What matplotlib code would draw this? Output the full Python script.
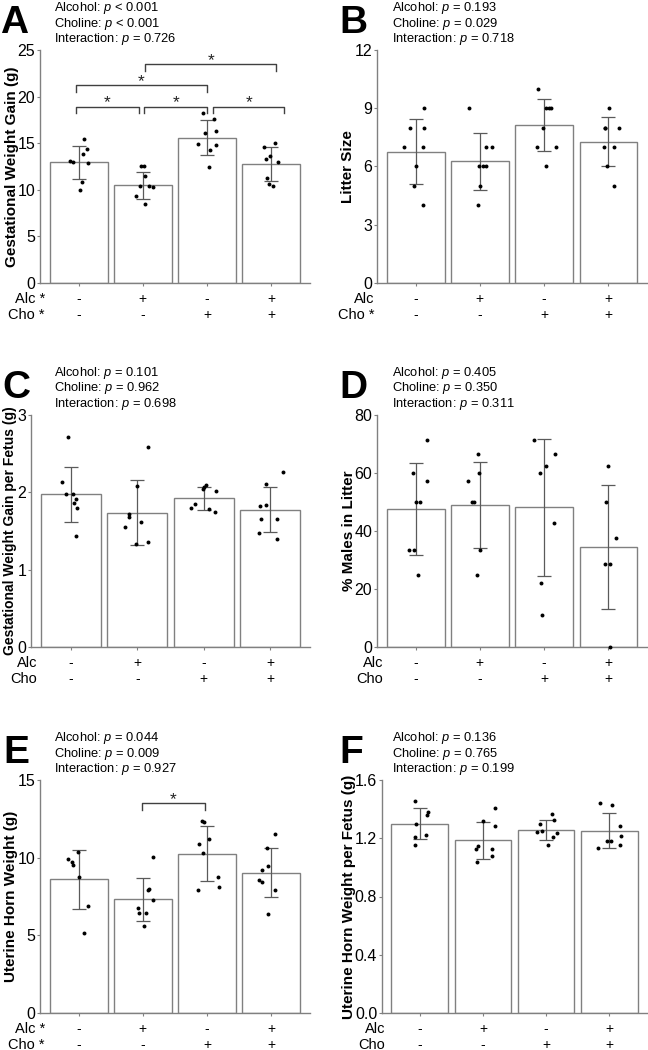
import matplotlib
matplotlib.use("Agg")
import matplotlib.pyplot as plt
import numpy as np
from matplotlib.ticker import FormatStrFormatter

plt.rcParams['font.family'] = ['Liberation Sans', 'DejaVu Sans']
plt.rcParams['mathtext.fontset'] = 'custom'
plt.rcParams['mathtext.rm'] = 'Liberation Sans'
plt.rcParams['mathtext.it'] = 'Liberation Sans:italic'

# ---------------- data ----------------
alc_row = ['-', '+', '-', '+']
cho_row = ['-', '-', '+', '+']

A_mean = [12.93, 10.5, 15.6, 12.75]
A_sd = [1.8, 1.46, 1.86, 1.8]
A_pts = [[15.43, 14.36, 13.86, 13.07, 13.0, 12.86, 10.86, 9.93],
         [12.57, 12.5, 11.43, 10.46, 10.36, 10.32, 9.36, 8.43],
         [18.21, 17.64, 16.07, 16.29, 14.93, 14.32, 14.79, 12.43],
         [14.61, 15.04, 13.68, 13.29, 12.93, 11.25, 10.61, 10.36]]
A_jit = [[0.08, 0.13, 0.07, -0.13, -0.08, 0.14, 0.05, 0.02],
         [0.01, -0.03, 0.03, -0.04, 0.09, 0.15, -0.11, 0.04],
         [-0.07, 0.10, -0.04, 0.13, -0.14, 0.05, 0.14, 0.03],
         [-0.12, 0.05, -0.02, -0.08, 0.10, -0.07, -0.04, 0.02]]
A_p = ["Alcohol: $\\it{p}$ < 0.001", "Choline: $\\it{p}$ < 0.001", "Interaction: $\\it{p}$ = 0.726"]

B_mean = [6.77, 6.26, 8.14, 7.27]
B_sd = [1.66, 1.48, 1.35, 1.27]
B_pts = [[9, 8, 8, 7, 7, 6, 5, 4],
         [9, 7, 7, 6, 6, 6, 5, 4],
         [10, 9, 9, 9, 8, 7, 7, 6],
         [9, 8, 8, 8, 7, 7, 6, 5]]
B_jit = [[0.13, -0.09, 0.13, -0.18, 0.11, 0.0, -0.03, 0.11],
         [-0.17, 0.10, 0.19, -0.02, 0.05, 0.10, 0.0, -0.03],
         [-0.09, 0.03, 0.07, 0.11, -0.02, -0.11, 0.18, 0.03],
         [0.01, -0.05, -0.05, 0.17, -0.07, 0.08, -0.03, 0.09]]
B_p = ["Alcohol: $\\it{p}$ = 0.193", "Choline: $\\it{p}$ = 0.029", "Interaction: $\\it{p}$ = 0.718"]

C_mean = [1.976, 1.739, 1.924, 1.778]
C_sd = [0.357, 0.415, 0.146, 0.297]
C_pts = [[2.71, 2.14, 1.98, 1.98, 1.92, 1.86, 1.80, 1.43],
         [2.59, 2.08, 1.72, 1.68, 1.62, 1.55, 1.36, 1.33],
         [2.10, 2.075, 2.045, 2.02, 1.855, 1.80, 1.78, 1.75],
         [2.26, 2.11, 1.84, 1.82, 1.66, 1.65, 1.47, 1.40]]
C_jit = [[-0.04, -0.14, -0.075, 0.025, 0.07, 0.045, 0.085, 0.075],
         [0.16, 0.0, -0.12, -0.12, 0.05, -0.18, 0.16, -0.02],
         [0.04, 0.01, -0.005, 0.185, -0.125, -0.185, 0.075, 0.175],
         [0.19, -0.055, -0.065, -0.15, -0.14, 0.10, -0.17, 0.11]]
C_p = ["Alcohol: $\\it{p}$ = 0.101", "Choline: $\\it{p}$ = 0.962", "Interaction: $\\it{p}$ = 0.698"]

D_mean = [47.5, 48.9, 48.2, 34.4]
D_sd = [15.8, 14.9, 23.6, 21.4]
D_pts = [[71.4, 60, 57.1, 50, 50, 33.3, 33.3, 25],
         [66.7, 60, 57.1, 50, 50, 33.3, 25],
         [71.4, 66.7, 62.5, 60, 42.9, 22.2, 11.1],
         [62.5, 50, 37.5, 28.6, 28.6, 0]]
D_jit = [[0.18, -0.04, 0.18, 0.0, 0.07, -0.11, -0.02, 0.04],
         [-0.03, -0.02, -0.19, -0.13, -0.09, 0.0, -0.05],
         [-0.16, 0.17, 0.03, -0.06, 0.15, -0.05, -0.03],
         [0.0, -0.04, 0.12, -0.05, 0.03, 0.02]]
D_p = ["Alcohol: $\\it{p}$ = 0.405", "Choline: $\\it{p}$ = 0.350", "Interaction: $\\it{p}$ = 0.311"]

E_mean = [8.62, 7.31, 10.25, 9.03]
E_sd = [1.9, 1.37, 1.78, 1.59]
E_pts = [[10.36, 9.91, 9.74, 9.50, 8.73, 6.88, 5.18],
         [10.04, 7.97, 7.89, 7.26, 6.73, 6.43, 6.43, 5.61],
         [12.36, 12.27, 11.20, 10.87, 10.32, 8.77, 8.08, 7.95],
         [11.54, 10.64, 9.46, 9.22, 8.58, 8.45, 7.91, 6.40]]
E_jit = [[-0.01, -0.17, -0.10, -0.08, 0.01, 0.14, 0.08],
         [0.16, 0.09, 0.08, 0.15, -0.07, -0.06, 0.05, 0.02],
         [-0.08, -0.05, 0.03, -0.12, -0.07, 0.17, 0.18, -0.14],
         [0.05, -0.07, -0.05, -0.15, -0.20, -0.14, 0.06, -0.06]]
E_p = ["Alcohol: $\\it{p}$ = 0.044", "Choline: $\\it{p}$ = 0.009", "Interaction: $\\it{p}$ = 0.927"]

F_mean = [1.30, 1.185, 1.258, 1.252]
F_sd = [0.105, 0.13, 0.067, 0.12]
F_pts = [[1.458, 1.38, 1.36, 1.30, 1.222, 1.21, 1.153],
         [1.41, 1.318, 1.284, 1.148, 1.125, 1.123, 1.077, 1.036],
         [1.364, 1.327, 1.295, 1.247, 1.245, 1.238, 1.21, 1.155],
         [1.444, 1.43, 1.284, 1.215, 1.183, 1.183, 1.153, 1.130]]
F_jit = [[-0.08, 0.13, 0.12, -0.06, 0.10, -0.08, -0.08],
         [0.19, 0.0, 0.19, -0.08, -0.11, 0.15, 0.14, -0.10],
         [0.09, 0.13, -0.10, -0.06, -0.14, 0.18, 0.11, 0.03],
         [-0.14, 0.05, 0.17, 0.19, 0.03, -0.04, 0.18, -0.18]]
F_p = ["Alcohol: $\\it{p}$ = 0.136", "Choline: $\\it{p}$ = 0.765", "Interaction: $\\it{p}$ = 0.199"]

# significance brackets: (left x, right x, y)
A_sig = [(-0.04, 0.94, 18.93), (1.02, 2.005, 18.93), (2.09, 3.2, 18.93),
         (-0.04, 1.99, 21.2), (1.04, 3.07, 23.5)]
E_sig = [(0.985, 1.97, 13.5)]

# ---------------- layout ----------------
W, H = 648, 1050
fig = plt.figure(figsize=(W / 100, H / 100), dpi=100)

GRAY = '#808080'
EGRAY = '#5a5a5a'

panels = [
    dict(letter='A', box=(40, 50, 310, 283), mean=A_mean, sd=A_sd, pts=A_pts, jit=A_jit, p=A_p,
         ylabel='Gestational Weight Gain (g)', ylsize=11, ylx=12, ymax=25, ystep=5, fmt='%d',
         rows=('Alc *', 'Cho *'), rowx=45, ptx=54, letx=0, sig=A_sig),
    dict(letter='B', box=(377, 50, 647, 283), mean=B_mean, sd=B_sd, pts=B_pts, jit=B_jit, p=B_p,
         ylabel='Litter Size', ylsize=11, ylx=348, ymax=12, ystep=3, fmt='%d',
         rows=('Alc', 'Cho *'), rowx=374, ptx=392, letx=339, sig=[]),
    dict(letter='C', box=(31, 415, 310, 647), mean=C_mean, sd=C_sd, pts=C_pts, jit=C_jit, p=C_p,
         ylabel='Gestational Weight Gain per Fetus (g)', ylsize=10, ylx=10, ymax=3, ystep=1, fmt='%d',
         rows=('Alc', 'Cho'), rowx=37, ptx=54, letx=2, sig=[]),
    dict(letter='D', box=(377, 415, 647, 647), mean=D_mean, sd=D_sd, pts=D_pts, jit=D_jit, p=D_p,
         ylabel='% Males in Litter', ylsize=11, ylx=349, ymax=80, ystep=20, fmt='%d',
         rows=('Alc', 'Cho'), rowx=383, ptx=392, letx=339, sig=[]),
    dict(letter='E', box=(40, 780, 310, 1013), mean=E_mean, sd=E_sd, pts=E_pts, jit=E_jit, p=E_p,
         ylabel='Uterine Horn Weight (g)', ylsize=11, ylx=11, ymax=15, ystep=5, fmt='%d',
         rows=('Alc *', 'Cho *'), rowx=45, ptx=54, letx=3, sig=E_sig),
    dict(letter='F', box=(382, 780, 647, 1013), mean=F_mean, sd=F_sd, pts=F_pts, jit=F_jit, p=F_p,
         ylabel='Uterine Horn Weight per Fetus (g)', ylsize=11, ylx=348.5, ymax=1.6, ystep=0.4, fmt='%.1f',
         rows=('Alc', 'Cho'), rowx=385, ptx=392, letx=339, sig=[]),
]


def fx(px):
    return px / W


def fy(py):
    return 1 - py / H


for P in panels:
    l, t, r, b = P['box']
    ax = fig.add_axes([fx(l), fy(b), (r - l) / W, (b - t) / H])
    x = np.arange(4)
    ax.bar(x, P['mean'], width=0.9, color='white', edgecolor=GRAY, linewidth=1.0, zorder=1)
    ax.errorbar(x, P['mean'], yerr=P['sd'], fmt='none', ecolor=EGRAY, elinewidth=0.9,
                capsize=4.7, capthick=0.9, zorder=2)
    for i in range(4):
        xs = i + np.array(P['jit'][i])
        ax.scatter(xs, P['pts'][i], s=8, color='black', linewidths=0, zorder=3, clip_on=False)
    ymax = P['ymax']
    ax.set_xlim(-0.6, 3.6)
    ax.set_ylim(0, ymax)
    ax.set_yticks(np.arange(0, ymax + ymax * 0.01, P['ystep']))
    ax.yaxis.set_major_formatter(FormatStrFormatter(P['fmt']))
    ax.set_xticks(x)
    ax.set_xticklabels([])
    for s in ['top', 'right']:
        ax.spines[s].set_visible(False)
    for s in ['left', 'bottom']:
        ax.spines[s].set_color(GRAY)
        ax.spines[s].set_linewidth(1.0)
    ax.tick_params(axis='y', length=2.5, width=0.8, color=GRAY, pad=1, labelsize=11.5)
    ax.tick_params(axis='x', length=2.5, width=0.8, color=GRAY)

    # brackets
    leg = 0.028 * ymax
    for (x1, x2, yb) in P['sig']:
        ax.plot([x1, x1, x2, x2], [yb - leg, yb, yb, yb - leg], color='#404040', lw=1.0, zorder=4)
        ax.annotate('*', xy=((x1 + x2) / 2, yb), xytext=(0, -0.5), textcoords='offset points',
                    ha='center', va='baseline', fontsize=12.5, color='#202020')

    # +/- rows
    for i in range(4):
        ax.annotate(alc_row[i], xy=(i, 0), xycoords=('data', 'axes fraction'),
                    xytext=(0, -16 * 0.72), textcoords='offset points', ha='center', va='center', fontsize=10)
        ax.annotate(cho_row[i], xy=(i, 0), xycoords=('data', 'axes fraction'),
                    xytext=(0, -32 * 0.72), textcoords='offset points', ha='center', va='center', fontsize=10)
    fig.text(fx(P['rowx']), fy(b + 16), P['rows'][0], ha='right', va='center', fontsize=10.5)
    fig.text(fx(P['rowx']), fy(b + 32), P['rows'][1], ha='right', va='center', fontsize=10.5)

    # y label
    fig.text(fx(P['ylx']), fy((t + b) / 2), P['ylabel'], rotation=90, ha='center', va='center',
             fontsize=P['ylsize'], fontweight='bold')

    # p-values
    for k, line in enumerate(P['p']):
        fig.text(fx(P['ptx']), fy(t - 8 - 15.5 * (2 - k)), line, ha='left', va='baseline', fontsize=9.3)

    # panel letter
    fig.text(fx(P['letx']), fy(t - 17), P['letter'], ha='left', va='baseline', fontsize=28,
             fontweight='bold')

fig.savefig('out.png', dpi=100)
